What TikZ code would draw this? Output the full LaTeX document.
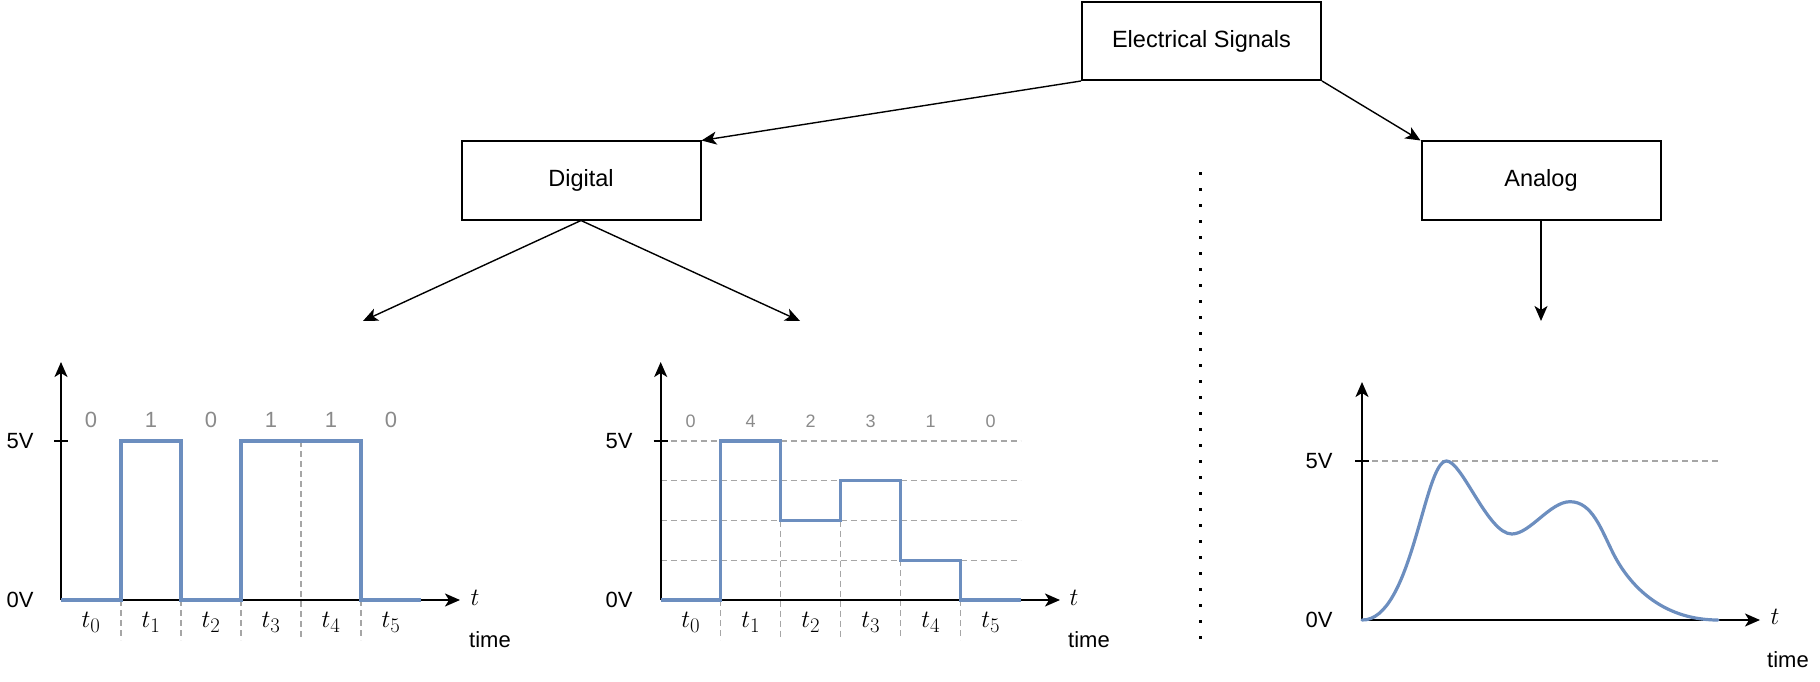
\documentclass[tikz,border=0pt]{standalone}
\usepackage{fontspec}
\setmainfont{Liberation Sans}
\usetikzlibrary{arrows.meta}
\DeclareMathSizes{28}{28}{21}{16}
\definecolor{wave}{HTML}{6C8EBF}
\definecolor{gridc}{HTML}{A6A6A6}
\definecolor{digitc}{HTML}{8A8A8A}
\begin{document}
\begin{tikzpicture}[x=1pt,y=-1pt,
 box/.style={draw,line width=2pt,minimum width=239pt,minimum height=78pt,inner sep=0pt,font=\fontsize{23.5}{27}\selectfont},
 conn/.style={line width=1.4pt,-{Stealth[length=15pt,width=13pt,inset=4pt]}},
 axis/.style={line width=1.8pt,-{Stealth[length=15pt,width=13pt,inset=4pt]}},
 wavel/.style={wave,line width=3.2pt,line join=miter},
 gridl/.style={gridc,line width=1.3pt,dash pattern=on 6pt off 4pt},
 lbl/.style={font=\fontsize{22}{26}\selectfont,inner sep=0pt},
 digA/.style={text=digitc,font=\fontsize{22}{26}\selectfont,inner sep=0pt},
 digB/.style={text=digitc,font=\fontsize{18}{22}\selectfont,inner sep=0pt},
 mth/.style={font=\fontsize{28}{32}\selectfont,inner sep=0pt}]
\useasboundingbox (0,0) rectangle (1820,682);

% --- tree ---
\node[box] (es) at (1201.5,41) {Electrical Signals};
\node[box] (dig) at (581,180.5) {Digital};
\node[box] (ana) at (1541,180.5) {Analog};
\coordinate (d1) at (363,321);
\coordinate (d2) at (800,321);
\coordinate (a1) at (1541,321);
\draw[conn] (es.south west) -- (dig.north east);
\draw[conn] (es.south east) -- (ana.north west);
\draw[conn] (dig.south) -- (d1);
\draw[conn] (dig.south) -- (d2);
\draw[conn] (ana.south) -- (a1);
\coordinate (s1) at (1200,172);
\coordinate (s2) at (1200,642);
\draw[line width=3pt,dash pattern=on 3pt off 13pt] (s1) -- (s2);

% --- chart 1 ---
\draw[gridl] (301,441) -- (301,640);
\foreach \x in {121,181,241,361} \draw[gridl] (\x,600) -- (\x,640);
\draw[axis] (61,600) -- (460,600);
\draw[axis] (61,600) -- (61,362);
\draw[line width=1.8pt] (54,441) -- (68,441);
\draw[wavel] (61,600) -- (121,600) -- (121,441) -- (181,441) -- (181,600) -- (241,600) -- (241,441) -- (361,441) -- (361,600) -- (421,600);
\node[lbl] (c1v5) at (20,441) {5V};
\node[lbl] (c1v0) at (20,600) {0V};
\foreach \x/\d [count=\i from 0] in {91/0,151/1,211/0,271/1,331/1,391/0} {
  \node[digA] (c1d\i) at (\x,420) {\d};
  \node[mth] (c1t\i) at (\x,622) {$t_{\i}$};
}
\node[mth] (c1t) at (475,598) {$t$};
\node[lbl] (c1time) at (490,640) {time};

% --- chart 2 ---
\foreach \y in {441,480.8,520.5,560.3} \draw[gridl] (660.7,\y) -- (1020.7,\y);
\draw[gridl] (720.7,600) -- (720.7,640);
\draw[gridl] (780.7,520.5) -- (780.7,640);
\draw[gridl] (840.7,520.5) -- (840.7,640);
\draw[gridl] (900.7,560.3) -- (900.7,640);
\draw[gridl] (960.7,600) -- (960.7,640);
\draw[axis] (660.7,600) -- (1060,600);
\draw[axis] (660.7,600) -- (660.7,362);
\draw[line width=1.8pt] (653.5,441) -- (668,441);
\draw[wavel] (660.7,600) -- (720.7,600) -- (720.7,441) -- (780.7,441) -- (780.7,520.5) -- (840.7,520.5) -- (840.7,480.8) -- (900.7,480.8) -- (900.7,560.3) -- (960.7,560.3) -- (960.7,600) -- (1020.7,600);
\node[lbl] (c2v5) at (619,441) {5V};
\node[lbl] (c2v0) at (619,600) {0V};
\foreach \x/\d [count=\i from 0] in {690.7/0,750.7/4,810.7/2,870.7/3,930.7/1,990.7/0} {
  \node[digB] (c2d\i) at (\x,421) {\d};
  \node[mth] (c2t\i) at (\x,622) {$t_{\i}$};
}
\node[mth] (c2t) at (1074,598) {$t$};
\node[lbl] (c2time) at (1089,640) {time};

% --- chart 3 ---
\draw[gridl] (1362,461) -- (1721,461);
\draw[axis] (1362,620) -- (1760,620);
\draw[axis] (1362,620) -- (1362,382);
\draw[line width=1.8pt] (1355,461) -- (1369,461);
\draw[wave,line width=3.2pt,line cap=round]
  (1362,620) .. controls (1412,621) and (1424,461) .. (1446.5,461)
  .. controls (1462,461) and (1488,534) .. (1511.7,534)
  .. controls (1530,534) and (1550,501.7) .. (1570,501.7)
  .. controls (1592,501.7) and (1601,529) .. (1613,553)
  .. controls (1628,583) and (1660,620) .. (1718,620);
\node[lbl] (c3v5) at (1319,461) {5V};
\node[lbl] (c3v0) at (1319,620) {0V};
\node[mth] (c3t) at (1775,617) {$t$};
\node[lbl] (c3time) at (1788,660) {time};
\end{tikzpicture}
\end{document}
